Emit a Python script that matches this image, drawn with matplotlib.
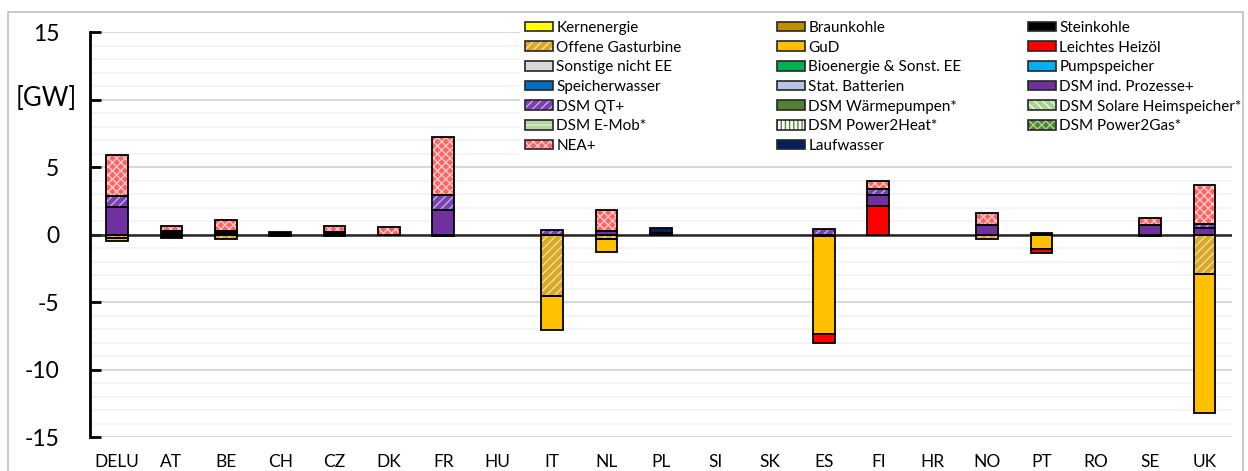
import matplotlib
matplotlib.use('Agg')
import matplotlib.pyplot as plt
import matplotlib.patches as mpatches
from matplotlib.legend import Legend
from matplotlib.legend_handler import HandlerTuple
import numpy as np

plt.rcParams['font.family'] = ['Lato', 'DejaVu Sans']
plt.rcParams['hatch.linewidth'] = 1.0

# Countries on the x axis
countries = ["DELU", "AT", "BE", "CH", "CZ", "DK", "FR", "HU", "IT", "NL", "PL",
             "SI", "SK", "ES", "FI", "HR", "NO", "PT", "RO", "SE", "UK"]

# Values in GW, one list per technology (same order as countries)
#               DELU   AT    BE    CH    CZ    DK    FR   HU   IT     NL    PL   SI   SK   ES     FI    HR   NO    PT    RO   SE    UK
kernenergie  = [0.0] * 21
braunkohle   = [0.0] * 21
steinkohle   = [0,     0.25, 0.1,  0.22, 0.22, 0,    0,   0,   0,     0,    0,   0,   0,   0,     0,    0,   0,    0,    0,   0,    0]
offene_gt    = [-0.25, -0.08, -0.35, 0,  0,    0,    0,   0,   -4.55, -0.35, 0,  0,   0,   -0.1,  0,    0,   -0.3, 0,    0,   0,    -2.9]
gud          = [-0.2,  0,    0,    0,    0,    0,    0,   0,   -2.55, -0.95, 0,  0,   0,   -7.25, 0,    0,   0,    -1.05, 0,  0,    -10.3]
heizoel      = [0,     0,    0,    0,    0,    0,    0,   0,   0,     0,    0,   0,   0,   -0.65, 2.15, 0,   0,    -0.35, 0,  0,    0]
sonstige     = [0.0] * 21
bioenergie   = [0.0] * 21
pumpspeicher = [0.0] * 21
speicherwasser = [0.0] * 21
batterien    = [0.0] * 21
dsm_ind      = [2.07,  0,    0.2,  0,    0,    0,    1.85, 0,  0,     0.3,  0.15, 0,  0,   0,     0.75, 0,   0.7,  0,    0,   0.7,  0.5]
dsm_qt       = [0.75,  0,    0,    0,    0,    0,    1.1, 0,   0.35,  0,    0,   0,   0,   0.4,   0.45, 0,   0,    0,    0,   0,    0.25]
dsm_wp       = [0.0] * 21
dsm_solar    = [0.0] * 21
dsm_emob     = [0.0] * 21
dsm_p2h      = [0.0] * 21
dsm_p2g      = [0.0] * 21
nea          = [3.05,  0.42, 0.8,  0,    0.45, 0.55, 4.25, 0,  0,     1.5,  0,   0,   0,   0,     0.65, 0,   0.9,  0,    0,   0.5,  2.95]
laufwasser   = [0,     -0.2, 0,    -0.12, -0.1, 0,   -0.1, 0,  0,     0,    0.35, 0,  0,   0,     0,    0,   0,    0.15, 0,   -0.08, 0]

# (label, values, face colour, hatch, hatch colour)
series = [
    ("Kernenergie", kernenergie, '#FFFF00', None, None),
    ("Braunkohle", braunkohle, '#BF8F00', None, None),
    ("Steinkohle", steinkohle, '#000000', None, None),
    ("Offene Gasturbine", offene_gt, '#D6A92E', '////', '#F7E08A'),
    ("GuD", gud, '#FFC000', None, None),
    ("Leichtes Heizöl", heizoel, '#FF0000', None, None),
    ("Sonstige nicht EE", sonstige, '#D9D9D9', None, None),
    ("Bioenergie & Sonst. EE", bioenergie, '#00B050', None, None),
    ("Pumpspeicher", pumpspeicher, '#00B0F0', None, None),
    ("Speicherwasser", speicherwasser, '#0070C0', None, None),
    ("Stat. Batterien", batterien, '#B4C7E7', None, None),
    ("DSM ind. Prozesse+", dsm_ind, '#7030A0', None, None),
    ("DSM QT+", dsm_qt, '#7A3FB0', '////', '#C9A9E6'),
    ("DSM Wärmepumpen*", dsm_wp, '#548235', None, None),
    ("DSM Solare Heimspeicher*", dsm_solar, '#A9D18E', '\\\\\\\\', '#F0F7EA'),
    ("DSM E-Mob*", dsm_emob, '#B5D6A0', '---', '#DDEFD3'),
    ("DSM Power2Heat*", dsm_p2h, '#FFFFFF', '||||', '#548235'),
    ("DSM Power2Gas*", dsm_p2g, '#548235', 'xxxx', '#A9D18E'),
    ("NEA+", nea, '#FF6262', 'xxxx', '#FFCACA'),
    ("Laufwasser", laufwasser, '#002060', None, None),
]

fig = plt.figure(figsize=(12.48, 4.71), dpi=100)
fig.patch.set_facecolor('white')
ax = fig.add_axes([0.072, 0.072, 0.915, 0.86])

x = np.arange(len(countries))
width = 0.4
pos_acc = np.zeros(len(countries))
neg_acc = np.zeros(len(countries))
handles = []
for label, vals, face, hatch, hcol in series:
    v = np.array(vals, dtype=float)
    pos = np.where(v > 0, v, 0)
    neg = np.where(v < 0, v, 0)
    for h, acc in ((pos, pos_acc), (neg, neg_acc)):
        m = h != 0
        if m.any():
            ax.bar(x[m], h[m], width, bottom=acc[m], color=face, hatch=hatch,
                   edgecolor=hcol if hatch else face, linewidth=0, zorder=3)
            ax.bar(x[m], h[m], width, bottom=acc[m], fill=False,
                   edgecolor='black', linewidth=1.3, zorder=4)
    pos_acc += pos
    neg_acc += neg
    fill = mpatches.Patch(facecolor=face, hatch=hatch,
                          edgecolor=hcol if hatch else face, linewidth=0)
    frame = mpatches.Patch(facecolor='none', edgecolor='#262626', linewidth=1.2)
    handles.append(((fill, frame), label))

ax.axhline(0, color='#262626', linewidth=1.8, zorder=2)

ax.set_xlim(-0.5, len(countries) - 0.5)
ax.set_ylim(-15, 15)
ax.set_yticks(np.arange(-15, 16, 5))
ax.set_yticklabels(['-15', '-10', '-5', '0', '5', '', '15'], fontsize=16.5)
ax.set_yticks(np.arange(-15, 16, 1), minor=True)
ax.grid(which='minor', axis='y', color='#F2F2F2', linewidth=1.2, zorder=0)
ax.grid(which='major', axis='y', color='#D9D9D9', linewidth=1.5, zorder=0)
ax.tick_params(axis='y', which='major', direction='in', length=8, width=2,
               pad=22, colors='black')
ax.tick_params(axis='y', which='minor', length=0)
ax.set_xticks(x)
ax.set_xticklabels(countries, fontsize=12.5)
ax.tick_params(axis='x', length=0, pad=12)
for s in ('top', 'right', 'bottom'):
    ax.spines[s].set_visible(False)
ax.spines['left'].set_linewidth(2)
ax.set_axisbelow(True)

# unit label sits where the "10" tick label would be
fig.text(46 / 1248, 1 - 99 / 471, '[GW]', fontsize=18.5, ha='center', va='center')

# white box behind the legend (hides the gridlines)
ax.add_patch(mpatches.Rectangle((520 / 1248, 1 - 157 / 471), 720 / 1248, 143 / 471,
                                transform=fig.transFigure, facecolor='white',
                                edgecolor='none', zorder=4.5, clip_on=False))

# Legend is row-wise in the reference: one legend per column
col_x = [525, 777, 1028]
for c in range(3):
    items = handles[c::3]
    leg = Legend(ax, [h for h, _ in items], [l for _, l in items],
                 handler_map={tuple: HandlerTuple(ndivide=1)},
                 loc='upper left', bbox_to_anchor=(col_x[c] / 1248, 1 - 21 / 471),
                 bbox_transform=fig.transFigure, fontsize=11, frameon=False,
                 handlelength=1.85, handleheight=0.6, handletextpad=0.2,
                 labelspacing=0.37, borderpad=0.0, borderaxespad=0)
    leg.set_zorder(5)
    ax.add_artist(leg)

# Outer frame around the chart
fig.patches.append(mpatches.Rectangle((8 / 1248, -0.05), 1235 / 1248, 1.05 - 12 / 471,
                                      transform=fig.transFigure, fill=False,
                                      edgecolor='#BFBFBF', linewidth=1.2))

fig.savefig('out.png', dpi=100, facecolor='white')
